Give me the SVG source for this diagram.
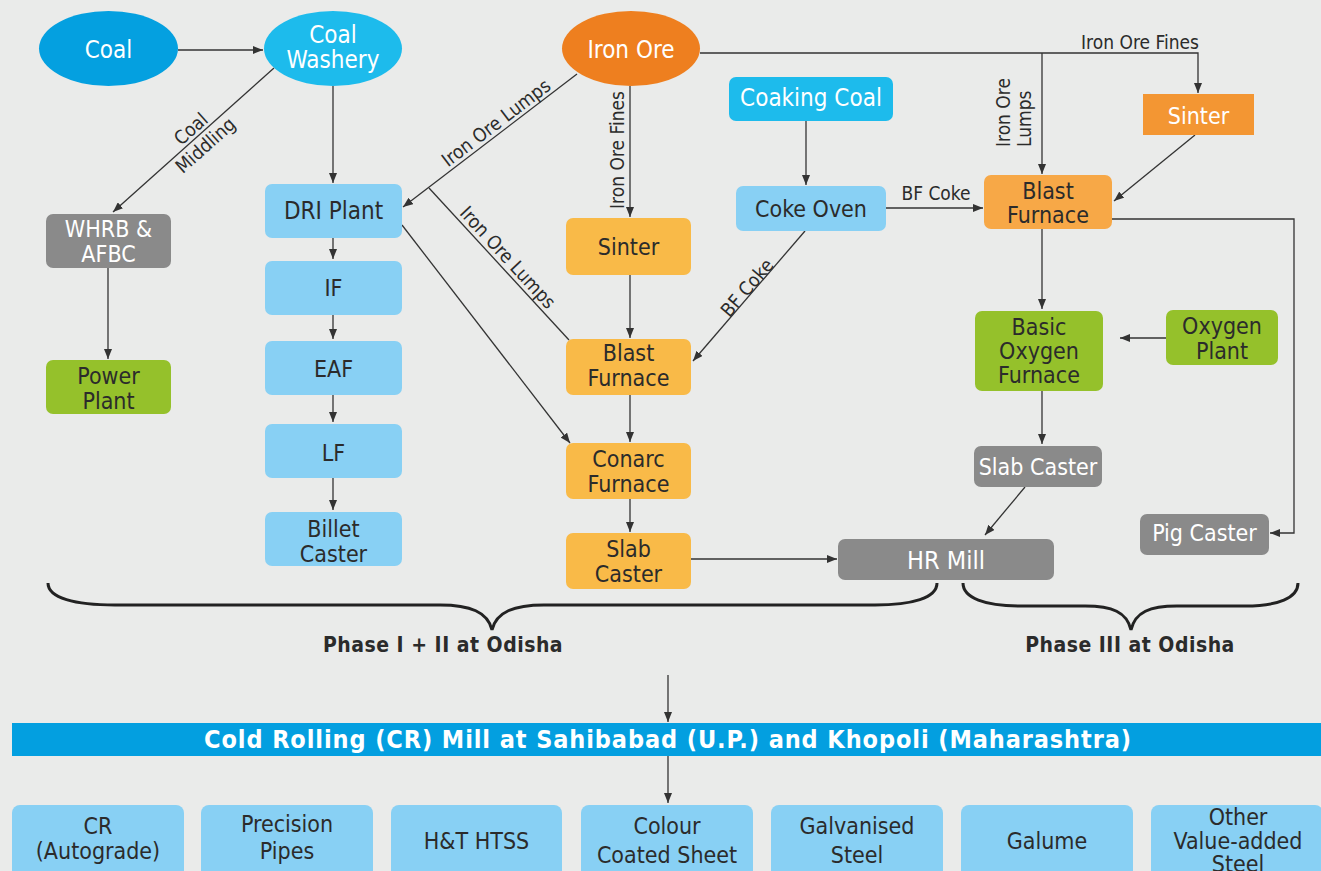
<svg xmlns="http://www.w3.org/2000/svg" width="1321" height="871" viewBox="0 0 1321 871">
<defs>
<marker id="ah" markerUnits="userSpaceOnUse" viewBox="0 0 10 8" refX="10" refY="4" markerWidth="10" markerHeight="8" orient="auto"><path d="M0,0 L10,4 L0,8 z" fill="#333"/></marker>
<style>
text{font-family:"DejaVu Sans Condensed","DejaVu Sans",sans-serif;font-stretch:semi-condensed;text-anchor:middle}
.t{font-size:23px;fill:#2b2b2b}
.tw{font-size:23px;fill:#ffffff}
.lbl{font-size:19px;fill:#2b2b2b}
.ph{font-size:21px;font-weight:bold;fill:#2b2b2b;letter-spacing:0.5px}
.bar{font-size:25px;font-weight:bold;fill:#ffffff;letter-spacing:0.9px}
.e{stroke:#333;stroke-width:1.3;fill:none;marker-end:url(#ah)}
.en{stroke:#333;stroke-width:1.3;fill:none}
.br{stroke:#222;stroke-width:3;fill:none}
.lb{fill:#88D0F4}
.am{fill:#F9BA48}
.gr{fill:#95C12B}
.gy{fill:#8A8A8A}
</style>
</defs>
<rect x="0" y="0" width="1321" height="871" fill="#EAEBEA"/>

<g id="connectors">
<line class="e" x1="178" y1="50" x2="263" y2="50"/>
<line class="e" x1="333" y1="86" x2="333" y2="183"/>
<line class="e" x1="274" y1="68" x2="113" y2="212"/>
<line class="e" x1="108" y1="268" x2="108" y2="359"/>
<line class="e" x1="333" y1="238" x2="333" y2="259"/>
<line class="e" x1="333" y1="315" x2="333" y2="339"/>
<line class="e" x1="333" y1="395" x2="333" y2="422"/>
<line class="e" x1="333" y1="478" x2="333" y2="510"/>
<line class="e" x1="577" y1="74" x2="403" y2="207"/>
<line class="en" x1="429" y1="188" x2="569" y2="340"/>
<line class="e" x1="402" y1="225" x2="570" y2="443"/>
<line class="e" x1="630" y1="86" x2="630" y2="217"/>
<line class="e" x1="630" y1="275" x2="630" y2="338"/>
<line class="e" x1="630" y1="395" x2="630" y2="442"/>
<line class="e" x1="630" y1="499" x2="630" y2="532"/>
<line class="e" x1="691" y1="559" x2="837" y2="559"/>
<line class="e" x1="806" y1="121" x2="806" y2="185"/>
<line class="e" x1="805" y1="231" x2="693" y2="361"/>
<line class="e" x1="886" y1="208" x2="983" y2="208"/>
<path class="e" d="M700,53 H1198 V93"/>
<line class="e" x1="1042" y1="53" x2="1042" y2="174"/>
<line class="e" x1="1195" y1="135" x2="1114" y2="201"/>
<line class="e" x1="1042" y1="229" x2="1042" y2="309"/>
<path class="e" d="M1112,219 H1294 V533 H1270"/>
<line class="e" x1="1166" y1="338" x2="1120" y2="338"/>
<line class="e" x1="1042" y1="391" x2="1042" y2="444"/>
<line class="e" x1="1025" y1="487" x2="985" y2="535"/>
<line class="e" x1="668" y1="675" x2="668" y2="722"/>
<line class="e" x1="668" y1="756" x2="668" y2="803"/>

<g transform="translate(198.5,137.5) rotate(-41.8)"><text class="lbl" x="0" y="-5">Coal</text><text class="lbl" x="0" y="17">Middling</text></g>
<text class="lbl" transform="translate(500,128) rotate(-37.2)" x="0" y="0">Iron Ore Lumps</text>
<text class="lbl" transform="translate(503,262) rotate(47.4)" x="0" y="0">Iron Ore Lumps</text>
<text class="lbl" transform="translate(624,150) rotate(-90)" x="0" y="0">Iron Ore Fines</text>
<text class="lbl" transform="translate(752,292) rotate(-49.3)" x="0" y="0">BF Coke</text>
<text class="lbl" x="936" y="200">BF Coke</text>
<text class="lbl" x="1140" y="49">Iron Ore Fines</text>
<text class="lbl" style="text-anchor:start" transform="translate(1010,147) rotate(-90)" x="0" y="0">Iron Ore</text>
<text class="lbl" style="text-anchor:start" transform="translate(1031,147) rotate(-90)" x="0" y="0">Lumps</text>
</g>

<g id="coal"><ellipse cx="108.5" cy="48.5" rx="69.5" ry="37.5" fill="#04A0E0"/><text class="tw" x="108.5" y="58" style="font-size:24px">Coal</text></g>
<g id="coal-washery"><ellipse cx="333" cy="48.5" rx="69" ry="37.5" fill="#1DBBEC"/><text class="tw" x="333" y="43" style="font-size:24px">Coal</text><text class="tw" x="333" y="68" style="font-size:24px">Washery</text></g>
<g id="iron-ore"><ellipse cx="631" cy="48.5" rx="69" ry="37.5" fill="#EE7F1F"/><text class="tw" x="631" y="58" style="font-size:24px">Iron Ore</text></g>
<g id="coaking-coal"><rect x="729" y="77" width="164" height="44" rx="7" fill="#1DBBEC"/><text class="tw" x="811" y="106" style="font-size:24px">Coaking Coal</text></g>
<g id="coke-oven"><rect class="lb" x="736" y="186" width="150" height="45" rx="7"/><text class="t" x="811" y="217">Coke Oven</text></g>
<g id="whrb"><rect class="gy" x="46" y="214" width="125" height="54" rx="7"/><text class="tw" x="108.5" y="237">WHRB &amp;</text><text class="tw" x="108.5" y="262">AFBC</text></g>
<g id="power-plant"><rect class="gr" x="46" y="360" width="125" height="54" rx="7"/><text class="t" x="108.5" y="384">Power</text><text class="t" x="108.5" y="409">Plant</text></g>
<g id="dri-plant"><rect class="lb" x="265" y="184" width="137" height="54" rx="7"/><text class="t" x="333.5" y="219" style="font-size:24px">DRI Plant</text></g>
<g id="if"><rect class="lb" x="265" y="261" width="137" height="54" rx="7"/><text class="t" x="333.5" y="296">IF</text></g>
<g id="eaf"><rect class="lb" x="265" y="341" width="137" height="54" rx="7"/><text class="t" x="333.5" y="377">EAF</text></g>
<g id="lf"><rect class="lb" x="265" y="424" width="137" height="54" rx="7"/><text class="t" x="333.5" y="461">LF</text></g>
<g id="billet-caster"><rect class="lb" x="265" y="512" width="137" height="54" rx="7"/><text class="t" x="333.5" y="537">Billet</text><text class="t" x="333.5" y="562">Caster</text></g>
<g id="sinter-1"><rect class="am" x="566" y="218" width="125" height="57" rx="7"/><text class="t" x="628.5" y="255">Sinter</text></g>
<g id="blast-furnace-1"><rect class="am" x="566" y="339" width="125" height="56" rx="7"/><text class="t" x="628.5" y="361">Blast</text><text class="t" x="628.5" y="386">Furnace</text></g>
<g id="conarc-furnace"><rect class="am" x="566" y="443" width="125" height="56" rx="7"/><text class="t" x="628.5" y="467">Conarc</text><text class="t" x="628.5" y="492">Furnace</text></g>
<g id="slab-caster-1"><rect class="am" x="566" y="533" width="125" height="56" rx="7"/><text class="t" x="628.5" y="557">Slab</text><text class="t" x="628.5" y="582">Caster</text></g>
<g id="hr-mill"><rect class="gy" x="838" y="539" width="216" height="41" rx="7"/><text class="tw" x="946" y="569" style="font-size:25px">HR Mill</text></g>
<g id="sinter-2"><rect x="1143" y="94" width="111" height="41" fill="#F39633"/><text class="tw" x="1198.5" y="124">Sinter</text></g>
<g id="blast-furnace-2"><rect x="984" y="175" width="128" height="54" rx="7" fill="#F7A847"/><text class="t" x="1048" y="199">Blast</text><text class="t" x="1048" y="223">Furnace</text></g>
<g id="bof"><rect class="gr" x="975" y="311" width="128" height="80" rx="7"/><text class="t" x="1039" y="335">Basic</text><text class="t" x="1039" y="359">Oxygen</text><text class="t" x="1039" y="383">Furnace</text></g>
<g id="oxygen-plant"><rect class="gr" x="1166" y="310" width="112" height="55" rx="7"/><text class="t" x="1222" y="334">Oxygen</text><text class="t" x="1222" y="359">Plant</text></g>
<g id="slab-caster-2"><rect class="gy" x="974" y="446" width="128" height="41" rx="7"/><text class="tw" x="1038" y="475">Slab Caster</text></g>
<g id="pig-caster"><rect class="gy" x="1140" y="514" width="129" height="41" rx="7"/><text class="tw" x="1204.5" y="541">Pig Caster</text></g>

<g id="phase-1-2"><path class="br" d="M48,583 C48,598 75,605 115,605 L440,605 C470,605 488,612 492,630 C496,612 514,605 544,605 L875,605 C912,605 937,598 937,583"/><text class="ph" x="443" y="652">Phase I + II at Odisha</text></g>
<g id="phase-3"><path class="br" d="M963,583 C963,598 985,606 1020,606 L1085,606 C1112,606 1127,612 1131,630 C1135,612 1150,606 1177,606 L1245,606 C1278,606 1298,598 1298,583"/><text class="ph" x="1130" y="652">Phase III at Odisha</text></g>

<g id="cr-mill"><rect x="12" y="723" width="1309" height="33" fill="#039FE0"/><text class="bar" x="668" y="748">Cold Rolling (CR) Mill at Sahibabad (U.P.) and Khopoli (Maharashtra)</text></g>

<g id="cr-autograde"><rect class="lb" x="12" y="805" width="172" height="80" rx="8"/><text class="t" x="98" y="834">CR</text><text class="t" x="98" y="859">(Autograde)</text></g>
<g id="precision-pipes"><rect class="lb" x="201" y="805" width="172" height="80" rx="8"/><text class="t" x="287" y="832">Precision</text><text class="t" x="287" y="859">Pipes</text></g>
<g id="ht-htss"><rect class="lb" x="391" y="805" width="171" height="80" rx="8"/><text class="t" x="476.5" y="849">H&amp;T HTSS</text></g>
<g id="colour-coated"><rect class="lb" x="581" y="805" width="172" height="80" rx="8"/><text class="t" x="667" y="834">Colour</text><text class="t" x="667" y="863">Coated Sheet</text></g>
<g id="galvanised"><rect class="lb" x="771" y="805" width="172" height="80" rx="8"/><text class="t" x="857" y="834">Galvanised</text><text class="t" x="857" y="863">Steel</text></g>
<g id="galume"><rect class="lb" x="961" y="805" width="172" height="80" rx="8"/><text class="t" x="1047" y="849">Galume</text></g>
<g id="other-steel"><rect class="lb" x="1151" y="805" width="172" height="80" rx="8"/><text class="t" x="1238" y="825">Other</text><text class="t" x="1238" y="849">Value-added</text><text class="t" x="1238" y="872">Steel</text></g>
</svg>
